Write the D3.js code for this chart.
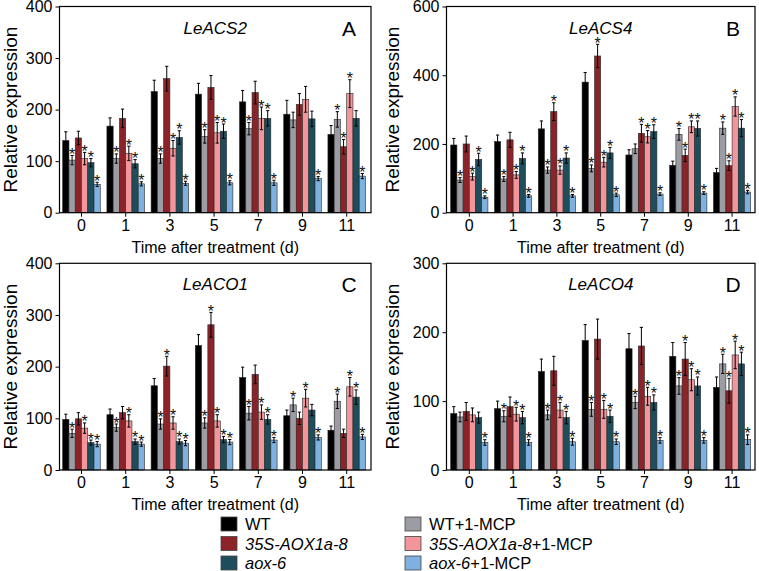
<!DOCTYPE html>
<html>
<head>
<meta charset="utf-8">
<script src="https://cdn.jsdelivr.net/npm/d3@7"></script>
<style>
  html, body { margin: 0; padding: 0; background: #fff; }
  svg { display: block; font-family: Arial, "Liberation Sans", sans-serif; }
</style>
</head>
<body>
<svg id="chart" width="759" height="571"></svg>
<script>
// ---------- data ----------
const groups = ["0", "1", "3", "5", "7", "9", "11"];
const seriesNames = ["WT", "WT+1-MCP", "35S-AOX1a-8", "35S-AOX1a-8+1-MCP", "aox-6", "aox-6+1-MCP"];
const seriesColors = ["#000000", "#9c9ca4", "#8c2329", "#f3969b", "#1e4d5c", "#7eb0e0"];

// rows = series (in seriesNames order), columns = groups
const acs2Mean = [
  [140, 168, 235, 230, 215, 191, 152],
  [102, 105, 105, 148, 163, 180, 181],
  [145, 183, 260, 243, 233, 210, 128],
  [105, 115, 125, 155, 183, 220, 231],
  [97, 95, 146, 158, 183, 182, 183],
  [55, 56, 57, 58, 58, 66, 71]
];
const acs2Err = [
  [17, 16, 22, 21, 22, 27, 17],
  [9, 9, 9, 13, 12, 15, 15],
  [13, 18, 24, 23, 22, 21, 14],
  [12, 14, 15, 20, 22, 25, 27],
  [8, 8, 13, 14, 15, 15, 15],
  [4, 4, 4, 4, 5, 4, 5]
];
const acs2Star = [
  [0, 0, 0, 0, 0, 0, 0],
  [1, 1, 1, 1, 1, 0, 1],
  [0, 0, 0, 0, 0, 0, 1],
  [1, 1, 1, 1, 1, 0, 1],
  [1, 1, 1, 1, 1, 0, 0],
  [1, 1, 1, 1, 1, 1, 1]
];

const acs4Mean = [
  [197, 207, 244, 380, 168, 138, 117],
  [95, 98, 124, 129, 186, 228, 246],
  [200, 212, 294, 456, 231, 167, 137],
  [105, 110, 124, 147, 221, 250, 309],
  [155, 158, 159, 174, 236, 245, 246],
  [45, 49, 49, 52, 54, 57, 60]
];
const acs4Err = [
  [19, 19, 23, 28, 15, 12, 12],
  [7, 7, 9, 10, 14, 17, 18],
  [23, 22, 26, 34, 26, 18, 14],
  [10, 10, 12, 14, 18, 17, 28],
  [18, 16, 15, 16, 20, 22, 25],
  [4, 4, 4, 5, 4, 4, 5]
];
const acs4Star = [
  [0, 0, 0, 0, 0, 0, 0],
  [1, 1, 1, 1, 0, 1, 1],
  [0, 0, 1, 1, 1, 1, 1],
  [1, 1, 1, 1, 1, 1, 1],
  [1, 1, 1, 1, 1, 1, 1],
  [1, 1, 1, 1, 1, 1, 1]
];

const aco1Mean = [
  [98, 107, 163, 241, 179, 105, 77],
  [71, 82, 89, 91, 110, 126, 133],
  [99, 111, 201, 281, 185, 100, 71],
  [81, 95, 91, 95, 112, 139, 161],
  [53, 55, 55, 59, 98, 116, 141],
  [50, 50, 52, 54, 58, 63, 64]
];
const aco1Err = [
  [10, 11, 14, 21, 20, 11, 8],
  [8, 7, 10, 10, 13, 13, 14],
  [12, 12, 19, 24, 18, 12, 8],
  [10, 12, 12, 12, 14, 17, 18],
  [5, 5, 5, 6, 9, 11, 14],
  [5, 4, 5, 5, 5, 5, 5]
];
const aco1Star = [
  [0, 0, 0, 0, 0, 0, 0],
  [1, 1, 1, 1, 1, 1, 1],
  [0, 0, 1, 1, 0, 0, 0],
  [1, 1, 1, 1, 1, 1, 1],
  [1, 1, 1, 1, 1, 0, 1],
  [1, 1, 1, 1, 1, 1, 1]
];

const aco4Mean = [
  [82, 89, 143, 188, 176, 165, 120],
  [77, 78, 80, 88, 98, 122, 154],
  [85, 92, 144, 190, 180, 161, 115],
  [80, 81, 87, 88, 107, 131, 167],
  [76, 76, 76, 78, 98, 122, 154],
  [40, 40, 41, 41, 43, 43, 44]
];
const aco4Err = [
  [10, 11, 18, 23, 22, 20, 15],
  [7, 8, 7, 10, 9, 12, 14],
  [13, 14, 21, 29, 27, 24, 18],
  [10, 10, 11, 13, 13, 16, 20],
  [8, 9, 9, 9, 11, 13, 17],
  [4, 4, 5, 4, 4, 4, 7]
];
const aco4Star = [
  [0, 0, 0, 0, 0, 0, 0],
  [0, 1, 1, 1, 1, 1, 1],
  [0, 0, 0, 0, 0, 1, 1],
  [0, 1, 1, 1, 1, 1, 1],
  [0, 1, 1, 1, 1, 1, 1],
  [1, 1, 1, 1, 1, 1, 1]
];

const geneTitles = ["LeACS2", "LeACS4", "LeACO1", "LeACO4"];
const panelLetters = ["A", "B", "C", "D"];
const yMaxes = [400, 600, 400, 300];
const yTicks = [[0, 100, 200, 300, 400], [0, 200, 400, 600], [0, 100, 200, 300, 400], [0, 100, 200, 300]];
const xTitle = "Time after treatment (d)";
const yTitle = "Relative expression";

// ---------- layout ----------
const svg = d3.select("#chart");
const panels = [
  { mean: acs2Mean, err: acs2Err, star: acs2Star, L: 59.5, R: 371, T: 6.5, B: 212.7, bL: 3.2, bR: 5.5, yLabX: 10 },
  { mean: acs4Mean, err: acs4Err, star: acs4Star, L: 446.5, R: 755, T: 6.5, B: 212.7, bL: 4.2, bR: 4.3, yLabX: 392 },
  { mean: aco1Mean, err: aco1Err, star: aco1Star, L: 59.5, R: 371, T: 263.3, B: 470, bL: 3.2, bR: 5.5, yLabX: 10 },
  { mean: aco4Mean, err: aco4Err, star: aco4Star, L: 446.5, R: 755, T: 263.3, B: 470, bL: 4.2, bR: 4.3, yLabX: 392 }
];

panels.forEach((p, pi) => {
  const g = svg.append("g");
  const x0 = d3.scaleBand().domain(groups).range([p.L + p.bL, p.R - p.bR]).paddingInner(0.15).paddingOuter(0);
  const x1 = d3.scaleBand().domain(d3.range(seriesNames.length)).range([0, x0.bandwidth()]).padding(0);
  const y = d3.scaleLinear().domain([0, yMaxes[pi]]).range([p.B, p.T]);

  // bars
  seriesNames.forEach((s, si) => {
    const rows = groups.map((grp, gi) => ({
      grp, v: p.mean[si][gi], e: p.err[si][gi], st: p.star[si][gi]
    }));
    const sg = g.append("g");
    sg.selectAll("rect").data(rows).join("rect")
      .attr("x", d => x0(d.grp) + x1(si))
      .attr("y", d => y(d.v))
      .attr("width", x1.bandwidth())
      .attr("height", d => y(0) - y(d.v))
      .attr("fill", seriesColors[si])
      .attr("stroke", "#2a2a2a")
      .attr("stroke-width", 0.6);
    // error bars
    const cx = d => x0(d.grp) + x1(si) + x1.bandwidth() / 2;
    sg.selectAll("line.eb").data(rows).join("line").attr("class", "eb")
      .attr("x1", cx).attr("x2", cx)
      .attr("y1", d => y(d.v - d.e)).attr("y2", d => y(d.v + d.e))
      .attr("stroke", "#000").attr("stroke-width", 1);
    sg.selectAll("line.capT").data(rows).join("line").attr("class", "capT")
      .attr("x1", d => cx(d) - 1.6).attr("x2", d => cx(d) + 1.6)
      .attr("y1", d => y(d.v + d.e)).attr("y2", d => y(d.v + d.e))
      .attr("stroke", "#000").attr("stroke-width", 1);
    sg.selectAll("line.capB").data(rows).join("line").attr("class", "capB")
      .attr("x1", d => cx(d) - 1.6).attr("x2", d => cx(d) + 1.6)
      .attr("y1", d => y(d.v - d.e)).attr("y2", d => y(d.v - d.e))
      .attr("stroke", "#000").attr("stroke-width", 1);
    // stars
    sg.selectAll("text.star").data(rows.filter(d => d.st)).join("text").attr("class", "star")
      .attr("x", cx)
      .attr("y", d => y(d.v + d.e) + 4.5)
      .attr("text-anchor", "middle")
      .attr("font-size", 16)
      .attr("fill", "#111")
      .text("*");
  });

  // axes
  const yAxis = d3.axisLeft(y).tickValues(yTicks[pi]).tickSize(4).tickPadding(3).tickFormat(d3.format("d"));
  const ya = g.append("g").attr("transform", `translate(${p.L},0)`).call(yAxis);
  ya.select(".domain").remove();
  ya.selectAll("text").attr("font-size", 16).attr("font-family", "Arial, 'Liberation Sans', sans-serif").attr("fill", "#000");
  ya.selectAll("line").attr("stroke", "#000");

  const xAxis = d3.axisBottom(x0).tickSize(4).tickPadding(3);
  const xa = g.append("g").attr("transform", `translate(0,${p.B})`).call(xAxis);
  xa.select(".domain").remove();
  xa.selectAll("text").attr("font-size", 16).attr("font-family", "Arial, 'Liberation Sans', sans-serif").attr("fill", "#000");
  xa.selectAll("line").attr("stroke", "#000");

  // frame
  g.append("rect").attr("x", p.L).attr("y", p.T).attr("width", p.R - p.L).attr("height", p.B - p.T)
    .attr("fill", "none").attr("stroke", "#000").attr("stroke-width", 1.2);

  // titles
  g.append("text").attr("x", (p.L + p.R) / 2).attr("y", p.T + 27)
    .attr("text-anchor", "middle").attr("font-size", 17).attr("font-style", "italic").text(geneTitles[pi]);
  g.append("text").attr("x", p.R - 22).attr("y", p.T + 29)
    .attr("text-anchor", "middle").attr("font-size", 21).text(panelLetters[pi]);
  g.append("text").attr("x", (p.L + p.R) / 2).attr("y", p.B + 40)
    .attr("text-anchor", "middle").attr("font-size", 16).text(xTitle);
  g.append("text").attr("transform", `translate(${p.yLabX},${(p.T + p.B) / 2}) rotate(-90)`)
    .attr("text-anchor", "middle").attr("dominant-baseline", "central").attr("font-size", 19).text(yTitle);
});

// ---------- legend ----------
const legendItems = [
  { si: 0, col: 0, row: 0, parts: [["WT", false]] },
  { si: 2, col: 0, row: 1, parts: [["35S-AOX1a-8", true]] },
  { si: 4, col: 0, row: 2, parts: [["aox-6", true]] },
  { si: 1, col: 1, row: 0, parts: [["WT+1-MCP", false]] },
  { si: 3, col: 1, row: 1, parts: [["35S-AOX1a-8", true], ["+1-MCP", false]] },
  { si: 5, col: 1, row: 2, parts: [["aox-6", true], ["+1-MCP", false]] }
];
const legX = [221, 405];
const legY = [524, 543.5, 563];
const lg = svg.append("g");
legendItems.forEach(it => {
  lg.append("rect").attr("x", legX[it.col]).attr("y", legY[it.row] - 7)
    .attr("width", 16).attr("height", 14)
    .attr("fill", seriesColors[it.si]).attr("stroke", "#444").attr("stroke-width", 0.8);
  const t = lg.append("text").attr("x", legX[it.col] + 24).attr("y", legY[it.row])
    .attr("dominant-baseline", "central").attr("font-size", 16.5);
  it.parts.forEach(([s, ital]) => {
    t.append("tspan").attr("font-style", ital ? "italic" : "normal").text(s);
  });
});
</script>
</body>
</html>
